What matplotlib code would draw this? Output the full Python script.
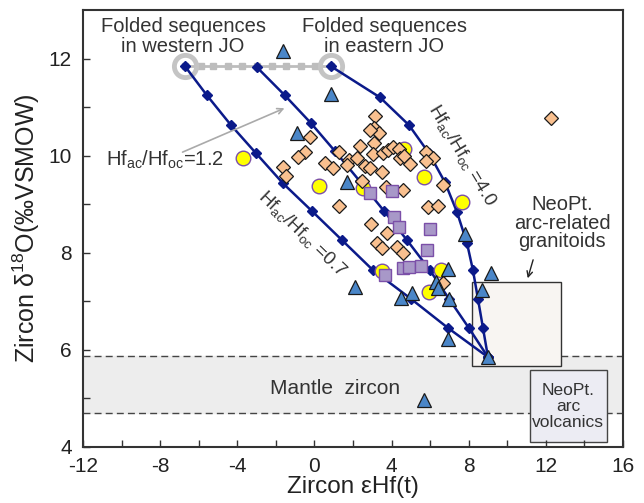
import matplotlib
matplotlib.use("Agg")
import matplotlib.pyplot as plt
from matplotlib.patches import Rectangle

plt.rcParams['font.family'] = ['Liberation Sans', 'DejaVu Sans']
plt.rcParams['mathtext.fontset'] = 'custom'
plt.rcParams['mathtext.rm'] = 'Liberation Sans'
plt.rcParams['mathtext.it'] = 'Liberation Sans'
plt.rcParams['axes.unicode_minus'] = False

# mixing curves (eHf, d18O) for Hf_ac/Hf_oc = 0.7, 1.2, 4.0
curve07_x = [-6.71, -5.57, -4.33, -3.03, -1.63, -0.13, 1.43, 3.04, 5.01, 6.93, 9.0]
curve07_y = [11.84, 11.24, 10.63, 10.05, 9.43, 8.86, 8.26, 7.64, 7.05, 6.45, 5.85]
curve12_x = [-2.98, -1.53, -0.18, 1.07, 2.36, 3.61, 4.80, 5.99, 6.98, 8.01, 9.0]
curve12_y = [11.82, 11.24, 10.67, 10.09, 9.47, 8.86, 8.26, 7.64, 7.05, 6.45, 5.85]
curve40_x = [0.86, 3.40, 4.90, 5.94, 6.77, 7.39, 7.91, 8.22, 8.48, 8.74, 9.0]
curve40_y = [11.84, 11.20, 10.63, 10.05, 9.45, 8.84, 8.20, 7.64, 7.05, 6.45, 5.85]

# grey line linking the folded sequences end-members
link_x = [-6.71, -5.90, -5.24, -4.47, -3.77, -2.98, -2.22, -1.47, -0.71, 0.03, 0.86]
link_y = [11.84] * len(link_x)
endmember_x = [-6.71, 0.86]
endmember_y = [11.84, 11.84]

tri_x = [-1.63, 0.86, -0.90, 1.69, 2.10, 4.49, 5.06, 6.30, 6.41, 6.93, 6.98, 7.81, 8.69, 9.16, 6.93, 9.00, 5.68]
tri_y = [12.15, 11.28, 10.46, 9.45, 7.29, 7.07, 7.17, 7.40, 7.27, 7.66, 7.05, 8.38, 7.23, 7.58, 6.22, 5.85, 4.97]

circ_x = [-3.70, 0.24, 2.52, 4.64, 5.68, 7.65, 3.50, 6.56, 5.94]
circ_y = [9.95, 9.37, 9.33, 10.13, 9.56, 9.04, 7.62, 7.64, 7.19]

sq_x = [2.88, 4.02, 4.13, 4.38, 5.99, 5.84, 4.59, 4.90, 5.53, 3.66]
sq_y = [9.23, 9.27, 8.73, 8.53, 8.49, 8.05, 7.68, 7.70, 7.72, 7.54]

dia_x = [3.14, 3.09, 3.35, 2.88, -0.23, -0.49, -0.85, -1.63, -1.47, 0.55, 0.96, 1.27,
         2.36, 3.09, 3.04, 1.79, 1.69, 2.21, 2.62, 2.88, 3.50, 3.56, 3.81, 4.07, 4.38,
         4.44, 4.64, 4.96, 5.79, 6.15, 5.79, 2.47, 6.67, 3.71, 4.59, 1.27, 5.89, 6.41,
         2.93, 3.76, 3.24, 3.50, 4.28, 4.59, 6.67, 12.27]
dia_y = [10.81, 10.58, 10.46, 10.52, 10.38, 10.07, 9.97, 9.76, 9.58, 9.84, 9.74, 10.07,
         10.19, 10.26, 10.03, 9.91, 9.80, 9.95, 9.79, 9.74, 9.66, 10.05, 10.11, 10.17, 10.13,
         9.95, 9.99, 9.82, 10.07, 9.95, 9.88, 9.47, 9.39, 9.35, 9.29, 8.96, 8.94, 8.96,
         8.59, 8.40, 8.20, 8.09, 8.12, 7.99, 7.37, 10.77]

mantle_band = (4.70, 5.87)

fig = plt.figure(figsize=(6.44, 5.03), dpi=100)
ax = fig.add_axes([83 / 644, 56 / 503, 540 / 644, 437 / 503])

txt = '#333333'
navy = '#0B1A8A'

# mantle zircon field
ax.axhspan(mantle_band[0], mantle_band[1], color='#EDEDED', zorder=0)
ax.axhline(mantle_band[0], color='#444444', ls=(0, (5, 3)), lw=1, zorder=1)
ax.axhline(mantle_band[1], color='#444444', ls=(0, (5, 3)), lw=1, zorder=1)

ax.add_patch(Rectangle((8.17, 5.67), 4.61, 1.73, facecolor='#F8F5F2', edgecolor='#333333', lw=1, zorder=1.5))
ax.add_patch(Rectangle((11.18, 4.10), 3.99, 1.48, facecolor='#ECECF3', edgecolor='#444444', lw=1, zorder=1.5))

ax.plot(link_x, link_y, color='#BDBDBD', lw=2, marker='s', ms=4, zorder=2)
ax.plot(endmember_x, endmember_y, ls='none', marker='o', ms=16, mfc='none', mec='#C4C4C4', mew=3.5, zorder=2)

for cx, cy in [(curve07_x, curve07_y), (curve12_x, curve12_y), (curve40_x, curve40_y)]:
    ax.plot(cx, cy, color=navy, lw=1.8, marker='D', ms=5, zorder=3)

ax.plot(circ_x, circ_y, ls='none', marker='o', ms=10.5, mfc='#FFFF00', mec='#7B4FA8', mew=1, zorder=4)
ax.plot(dia_x, dia_y, ls='none', marker='D', ms=6.8, mfc='#F9C08F', mec='#1A1A1A', mew=0.9, zorder=5)
ax.plot(sq_x, sq_y, ls='none', marker='s', ms=9, mfc='#A898C8', mec='#7B4FA8', mew=1, zorder=6)
ax.plot(tri_x, tri_y, ls='none', marker='^', ms=10.5, mfc='#4A86C8', mec='#1A1A1A', mew=0.9, zorder=7)

# labels
ax.text(-6.81, 12.46, 'Folded sequences\nin western JO', ha='center', va='center', fontsize=14.5,
        color=txt, linespacing=1.05, zorder=8)
ax.text(3.61, 12.46, 'Folded sequences\nin eastern JO', ha='center', va='center', fontsize=14.5,
        color=txt, linespacing=1.05, zorder=8)
ax.text(-7.75, 9.91, r'Hf$_{\mathrm{ac}}$/Hf$_{\mathrm{oc}}$=1.2', ha='center', va='center',
        fontsize=14.5, color=txt, zorder=8)
ax.annotate('', xy=(-1.42, 11.0), xytext=(-6.97, 10.05),
            arrowprops=dict(arrowstyle='->', color='#AAAAAA', lw=1.2), zorder=8)
ax.text(-0.64, 8.40, r'Hf$_{\mathrm{ac}}$/Hf$_{\mathrm{oc}}$ =0.7', ha='center', va='center',
        fontsize=13.5, color=txt, rotation=-44, rotation_mode='anchor', zorder=8)
ax.text(7.65, 10.01, r'Hf$_{\mathrm{ac}}$/Hf$_{\mathrm{oc}}$ =4.0', ha='center', va='center',
        fontsize=13.5, color=txt, rotation=-59, rotation_mode='anchor', zorder=8)
ax.text(12.84, 8.61, 'NeoPt.\narc-related\ngranitoids', ha='center', va='center', fontsize=14.5,
        color=txt, linespacing=0.97, zorder=8)
ax.annotate('', xy=(11.02, 7.42), xytext=(11.38, 7.91),
            arrowprops=dict(arrowstyle='->', color='#222222', lw=1), zorder=8)
ax.text(13.17, 4.84, 'NeoPt.\narc\nvolcanics', ha='center', va='center', fontsize=12.5,
        color=txt, linespacing=1.1, zorder=8)
ax.text(1.07, 5.21, 'Mantle  zircon', ha='center', va='center', fontsize=15, color=txt, zorder=8)

ax.set_xlim(-12, 16)
ax.set_ylim(4, 13)
ax.set_xticks(range(-12, 17, 4))
ax.set_xticks(range(-12, 17, 2), minor=True)
ax.set_yticks(range(4, 13, 2))
ax.set_yticks(range(5, 13, 2), minor=True)
ax.tick_params(which='both', direction='in', length=5, width=1, labelsize=15,
               labelcolor='#222222', color='#333333')
ax.tick_params(axis='x', pad=7)
ax.tick_params(axis='y', pad=8)
for s in ax.spines.values():
    s.set_linewidth(1.5)
    s.set_color('#333333')

ax.set_xlabel('Zircon εHf(t)', fontsize=17.5, color='#222222', labelpad=0)
ax.set_ylabel('Zircon δ$^{18}$O(‰VSMOW)', fontsize=18, color='#222222', labelpad=5)

fig.savefig('out.png', dpi=100)
